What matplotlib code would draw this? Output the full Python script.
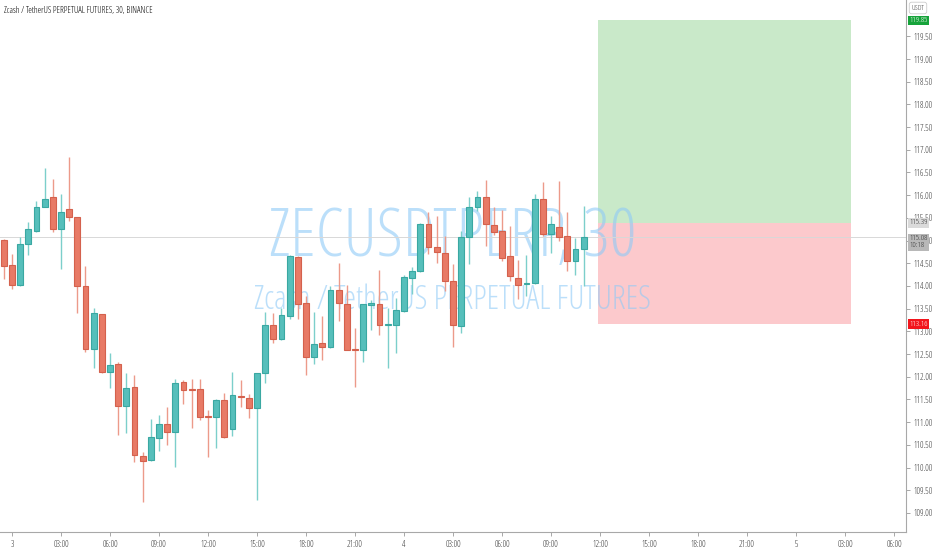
import numpy as np
import matplotlib
matplotlib.use("Agg")
import matplotlib.pyplot as plt
import matplotlib.transforms as mtransforms

# ---- data (30-min candles, index in half-hours from day 3 00:00) ----
t_start = -1
opens = [115.01, 114.46, 114.02, 114.93, 115.21, 115.75, 115.95, 115.26, 115.69, 115.52,
         114.00, 112.62, 113.38, 112.11, 112.28, 111.36, 111.77, 110.26, 110.17, 110.65,
         110.96, 110.78, 111.88, 111.71, 111.72, 111.12, 111.11, 111.49, 110.84, 111.56,
         111.53, 111.31, 112.08, 113.14, 112.83, 113.34, 114.63, 113.62, 112.44, 112.74,
         112.65, 113.91, 113.60, 112.59, 112.59, 113.59, 113.60, 113.13, 113.13, 113.44,
         114.18, 114.32, 115.37, 114.85, 114.72, 114.10, 113.12, 115.07, 115.73, 115.95,
         115.34, 115.21, 114.65, 114.18, 114.05, 114.06, 115.91, 115.14, 115.31, 115.10,
         114.56, 114.81]
highs = [115.03, 114.70, 115.07, 115.42, 115.88, 116.59, 116.35, 116.02, 116.85, 115.52,
         114.44, 113.51, 113.38, 112.52, 112.33, 112.08, 112.03, 110.35, 111.06, 111.15,
         111.34, 111.96, 111.93, 111.95, 111.96, 111.27, 111.50, 111.64, 112.11, 111.93,
         111.61, 112.09, 113.42, 113.40, 113.51, 114.68, 114.65, 113.77, 113.43, 113.34,
         113.99, 114.50, 114.02, 113.07, 113.61, 113.69, 114.35, 113.51, 113.73, 114.24,
         114.41, 115.38, 115.63, 115.54, 115.10, 114.49, 115.21, 115.95, 116.10, 116.34,
         115.73, 115.67, 115.32, 114.57, 114.68, 116.03, 116.28, 115.54, 116.31, 115.62,
         115.05, 115.76]
lows = [114.15, 113.93, 114.00, 114.68, 115.18, 115.73, 115.18, 114.37, 115.44, 113.40,
        112.55, 112.19, 112.08, 111.76, 110.72, 110.76, 110.12, 109.23, 110.15, 110.37,
        110.50, 110.02, 111.40, 110.88, 111.05, 110.24, 110.42, 110.66, 110.70, 111.33,
        111.10, 109.29, 111.86, 112.74, 112.82, 113.27, 113.27, 112.03, 112.28, 112.37,
        112.64, 113.23, 112.58, 111.77, 112.33, 113.03, 112.92, 112.19, 112.53, 113.42,
        113.82, 114.30, 114.71, 114.50, 113.88, 112.66, 112.96, 114.48, 115.66, 114.87,
        115.12, 114.54, 114.12, 113.71, 113.77, 114.05, 115.09, 114.73, 114.98, 114.32,
        114.24, 114.00]
closes = [114.45, 114.02, 114.92, 115.26, 115.73, 115.92, 115.26, 115.62, 115.51, 114.01,
          112.61, 113.40, 112.11, 112.26, 111.36, 111.75, 110.27, 110.15, 110.67, 110.96,
          110.78, 111.86, 111.71, 111.70, 111.12, 111.11, 111.49, 110.67, 111.59, 111.55,
          111.31, 112.08, 113.14, 112.83, 113.36, 114.65, 113.61, 112.43, 112.72, 112.65,
          113.91, 113.63, 112.59, 112.58, 113.60, 113.60, 113.13, 113.14, 113.47, 114.19,
          114.34, 115.37, 114.85, 114.74, 114.10, 113.13, 115.07, 115.73, 115.95, 115.37,
          115.20, 114.62, 114.23, 114.02, 114.06, 115.91, 115.14, 115.37, 115.07, 114.55,
          114.81, 115.08]

time_tick_pos = [0, 6, 12, 18, 24, 30, 36, 42, 48, 54, 60, 66, 72, 78, 84, 90, 96, 102, 108]
time_tick_labels = ["3", "03:00", "06:00", "09:00", "12:00", "15:00", "18:00", "21:00",
                    "4", "03:00", "06:00", "09:00", "12:00", "15:00", "18:00", "21:00",
                    "5", "03:00", "06:00"]

entry_price = 115.39
target_price = 119.85
stop_price = 113.16
last_price = 115.08
box_start, box_end = 71.75, 102.75

SMALL = dict(family="Open Sans", fontstretch="condensed")
WM_COLOR = "#8fcaf7"

# ---- figure ----
fig = plt.figure(figsize=(9.32, 5.5), dpi=100)
ax = fig.add_axes([0, 18 / 550, 906 / 932, 532 / 550])
ax.set_xlim(-1.469, 109.47)
ax.set_ylim(108.58, 120.30)
yspan = 120.30 - 108.58

# position box
ax.fill_between([box_start, box_end], entry_price, target_price, color="#c9e9c9", lw=0, zorder=1)
ax.fill_between([box_start, box_end], stop_price, entry_price, color="#fcc9cc", lw=0, zorder=1)

# watermark (semi-transparent, shows through the box)
ax.text(0.5, (115.05 - 108.58) / yspan, "ZECUSDTPERP, 30", transform=ax.transAxes,
        ha="center", va="center", fontsize=48, color=WM_COLOR, alpha=0.6, family="Open Sans",
        fontstretch="condensed", zorder=1.2)
ax.text(0.5, (113.68 - 108.58) / yspan, "Zcash / TetherUS PERPETUAL FUTURES",
        transform=ax.transAxes, ha="center", va="center", fontsize=23.5, color=WM_COLOR,
        alpha=0.6, family="Open Sans", fontstretch="condensed", zorder=1.2)

# last price line
ax.axhline(last_price, color="#d8d8d8", lw=0.7, zorder=1.5)

# candles
t = np.arange(t_start, t_start + len(opens))
o = np.array(opens); h = np.array(highs); l = np.array(lows); c = np.array(closes)
up = c >= o
up_col, up_edge = "#56bfbb", "#3aa8a2"
dn_col, dn_edge = "#e87a66", "#d4614d"
ax.vlines(t[up], l[up], h[up], color="#7ccfcb", lw=1.0, zorder=2)
ax.vlines(t[~up], l[~up], h[~up], color="#ec9a8a", lw=1.0, zorder=2)
body_bot = np.minimum(o, c)
body_h = np.maximum(np.abs(c - o), 0.025)
ax.bar(t[up], body_h[up], bottom=body_bot[up], width=0.72, color=up_col,
       edgecolor=up_edge, lw=0.8, zorder=3)
ax.bar(t[~up], body_h[~up], bottom=body_bot[~up], width=0.72, color=dn_col,
       edgecolor=dn_edge, lw=0.8, zorder=3)

# axes styling
for s in ["left", "top"]:
    ax.spines[s].set_visible(False)
for s in ["right", "bottom"]:
    ax.spines[s].set_color("#a8a8a8")
    ax.spines[s].set_linewidth(0.8)
ax.yaxis.tick_right()
yt = np.arange(109.0, 119.51, 0.5)
ax.set_yticks(yt)
ax.set_yticklabels([f"{v:.2f}" for v in yt])
ax.set_xticks(time_tick_pos)
ax.set_xticklabels(time_tick_labels)
ax.tick_params(axis="both", direction="out", length=3, width=0.7, color="#a8a8a8",
               labelsize=6.3, labelcolor="#333333", pad=2)
ax.tick_params(axis="x", pad=3)
for lab in ax.get_xticklabels() + ax.get_yticklabels():
    lab.set_family("Open Sans")
    lab.set_fontstretch("condensed")

# price labels on the axis
btrans = mtransforms.blended_transform_factory(ax.transAxes, ax.transData)
otrans = mtransforms.offset_copy(btrans, fig=fig, x=3, y=0, units="dots")
for price, fc, tc in [(target_price, "#16a33a", "white"), (entry_price, "#dadada", "#333333"),
                      (stop_price, "#f2151c", "white")]:
    ax.text(1.0, price, f"{price:.2f}", transform=otrans, ha="left", va="center",
            fontsize=6.0, color=tc, **SMALL,
            bbox=dict(boxstyle="square,pad=0.15", fc=fc, ec="none"), clip_on=False, zorder=5)
ax.text(1.0, last_price - 0.12, f"{last_price:.2f}\n10:18", transform=otrans, ha="left",
        va="center", fontsize=6.0, color="#333333", **SMALL, linespacing=1.0,
        bbox=dict(boxstyle="square,pad=0.15", fc="#b8b8b8", ec="none"), clip_on=False, zorder=5)

# currency tag
fig.text(918 / 932, 1 - 8 / 550, "USDT", ha="center", va="center", fontsize=5.5,
         color="#444444", **SMALL,
         bbox=dict(boxstyle="round,pad=0.3", fc="white", ec="#cccccc", lw=0.6))

# title
fig.text(4 / 932, 1 - 10 / 550, "Zcash / TetherUS PERPETUAL FUTURES, 30, BINANCE",
         ha="left", va="center", fontsize=6.4, color="#000000", family="Open Sans",
         fontstretch="condensed")

fig.savefig("out.png", dpi=100, facecolor="white")
